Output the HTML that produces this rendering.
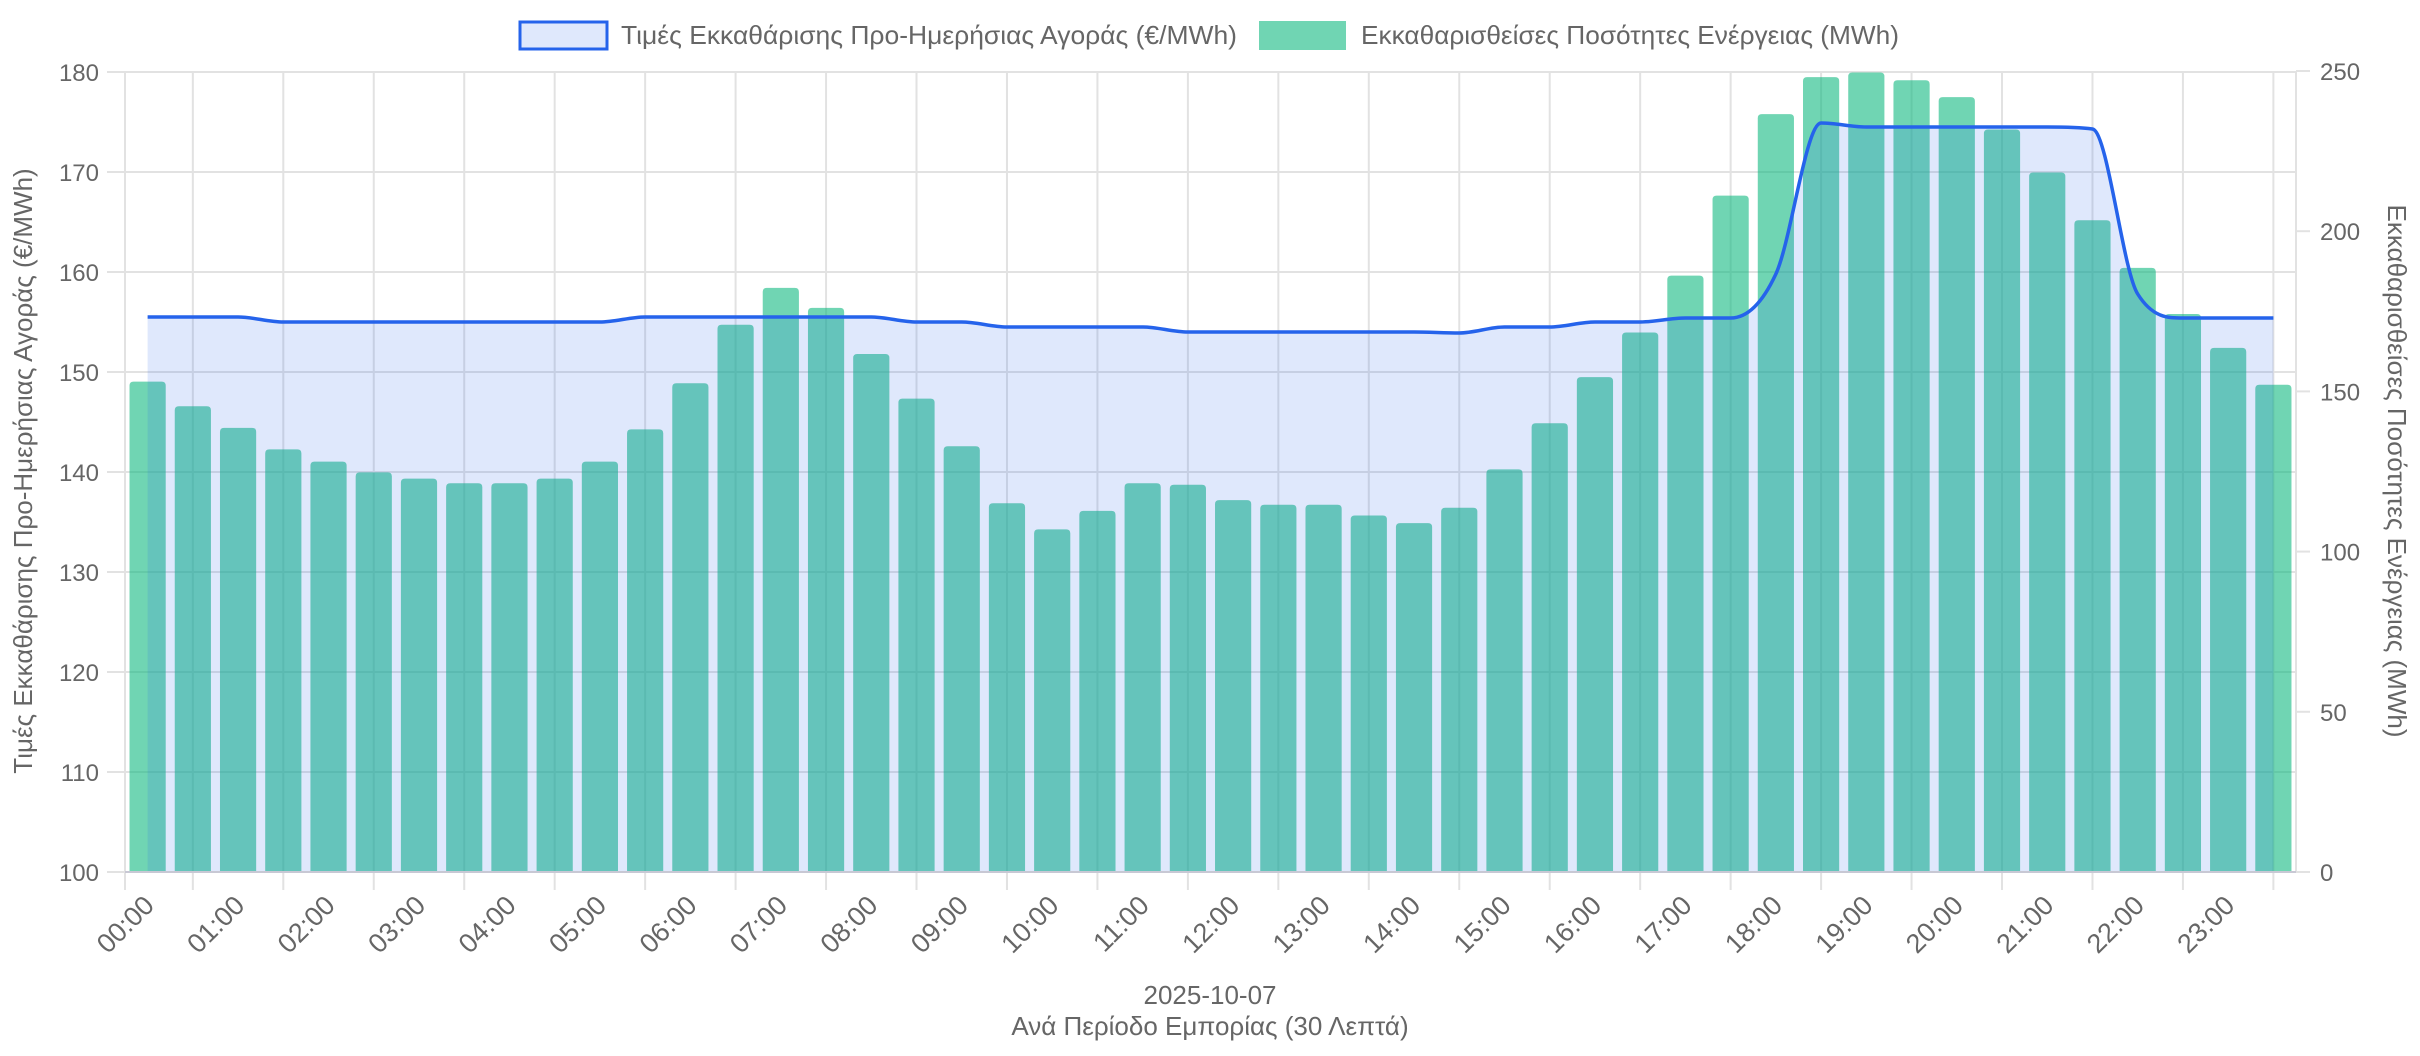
<!DOCTYPE html>
<html><head><meta charset="utf-8">
<style>
html,body{margin:0;padding:0;background:#fff;}
svg{display:block;font-family:"Liberation Sans",sans-serif;}
</style></head>
<body>
<svg id="c" width="2420" height="1056" viewBox="0 0 2420 1056" xmlns="http://www.w3.org/2000/svg"></svg>
<script>
const NS="http://www.w3.org/2000/svg";
const svg=document.getElementById('c');
function el(t,a,txt){const e=document.createElementNS(NS,t);for(const k in a)e.setAttribute(k,a[k]);if(txt!==undefined)e.textContent=txt;svg.appendChild(e);return e;}
const L=125,R=2296,T=71,B=872,N=48,bw=(R-L)/N;
const py=p=>B-(p-100)*10;
const qy=q=>B-q*(B-T)/250;
const cx=i=>L+bw*(i+0.5);
const dt=[247,263,277,291,299,306,310,313,313,310,299,278,248,210,186,199,229,258,289,326,343,331,313,314,324,327,327,334,339,329,304,274,244,215,178,126,73,49,46,51,62,83,111,142,173,203,225,249];
const tops=dt.map(d=>d*1.538+1.8);
const P=[155.5,155.5,155.5,155.0,155.0,155.0,155.0,155.0,155.0,155.0,155.0,155.5,155.5,155.5,155.5,155.5,155.5,155.0,155.0,154.5,154.5,154.5,154.5,154.0,154.0,154.0,154.0,154.0,154.0,153.9,154.5,154.5,155.0,155.0,155.4,155.4,159.8,174.9,174.5,174.5,174.5,174.5,174.5,174.3,157.8,155.4,155.4,155.4];
const grid="#e2e2e2";
const FT=24, FS=26;
for(let p=100;p<=180;p+=10){el('line',{x1:107,x2:R,y1:py(p),y2:py(p),stroke:grid,'stroke-width':2});
 el('text',{x:99,y:py(p)+9,'text-anchor':'end','font-size':FT,fill:'#666'},String(p));}
el('line',{x1:L,x2:L,y1:T,y2:890,stroke:grid,'stroke-width':2});
el('line',{x1:R,x2:R,y1:T,y2:B,stroke:grid,'stroke-width':2});
for(let k=0;k<24;k++){const x=L+bw*(1.5+2*k);el('line',{x1:x,x2:x,y1:T,y2:890,stroke:grid,'stroke-width':2});}
for(let q=0;q<=250;q+=50){el('line',{x1:R,x2:R+14,y1:qy(q),y2:qy(q),stroke:grid,'stroke-width':2});
 el('text',{x:2320,y:qy(q)+9,'font-size':FT,fill:'#666'},String(q));}
for(let i=0;i<N;i++){const w=bw*0.8,x=cx(i)-w/2,t=tops[i],r=4;
 el('path',{d:`M${x},${B} V${t+r} Q${x},${t} ${x+r},${t} H${x+w-r} Q${x+w},${t} ${x+w},${t+r} V${B} Z`,fill:'rgba(16,185,129,0.6)'});}
const pts=P.map((p,i)=>[cx(i),py(p)]);
function mono(pts){const n=pts.length,d=[],m=[];for(let i=0;i<n-1;i++)d.push((pts[i+1][1]-pts[i][1])/(pts[i+1][0]-pts[i][0]));
 m[0]=d[0];m[n-1]=d[n-2];for(let i=1;i<n-1;i++){m[i]=(d[i-1]*d[i]<=0)?0:(d[i-1]+d[i])/2;}
 for(let i=0;i<n-1;i++){if(d[i]===0){m[i]=0;m[i+1]=0;continue;}const a=m[i]/d[i],b=m[i+1]/d[i],s=a*a+b*b;if(s>9){const t=3/Math.sqrt(s);m[i]=t*a*d[i];m[i+1]=t*b*d[i];}}
 let s=`M${pts[0][0]},${pts[0][1]}`;for(let i=0;i<n-1;i++){const h=(pts[i+1][0]-pts[i][0])/3;
 s+=` C${pts[i][0]+h},${pts[i][1]+m[i]*h} ${pts[i+1][0]-h},${pts[i+1][1]-m[i+1]*h} ${pts[i+1][0]},${pts[i+1][1]}`;}return s;}
const lp=mono(pts);
el('path',{d:lp+` L${pts[N-1][0]},${B} L${pts[0][0]},${B} Z`,fill:'rgba(37,99,235,0.15)'});
el('path',{d:lp,fill:'none',stroke:'#2563eb','stroke-width':3.5});
el('line',{x1:L,x2:R,y1:B,y2:B,stroke:'#c8c8d4','stroke-width':2});
for(let h=0;h<24;h++){const x=cx(2*h)+8,y=907;const lb=(h<10?'0':'')+h+':00';
 el('text',{x:x,y:y,'text-anchor':'end','font-size':27,fill:'#666',transform:`rotate(-45 ${x} ${y})`},lb);}
el('text',{x:1210,y:1004,'text-anchor':'middle','font-size':FS,fill:'#666'},'2025-10-07');
el('text',{x:1210,y:1035,'text-anchor':'middle','font-size':FS,fill:'#666'},'Ανά Περίοδο Εμπορίας (30 Λεπτά)');
el('text',{x:0,y:0,'text-anchor':'middle','font-size':FS,fill:'#666',transform:'translate(32,471) rotate(-90)'},'Τιμές Εκκαθάρισης Προ-Ημερήσιας Αγοράς (€/MWh)');
el('text',{x:0,y:0,'text-anchor':'middle','font-size':FS,fill:'#666',transform:'translate(2388,471) rotate(90)'},'Εκκαθαρισθείσες Ποσότητες Ενέργειας (MWh)');
el('rect',{x:520,y:22,width:87,height:27,fill:'rgba(37,99,235,0.15)',stroke:'#2563eb','stroke-width':3});
el('text',{x:621,y:44,'font-size':FS,fill:'#666',textLength:616,lengthAdjust:'spacingAndGlyphs'},'Τιμές Εκκαθάρισης Προ-Ημερήσιας Αγοράς (€/MWh)');
el('rect',{x:1259,y:21,width:87,height:29,fill:'rgba(16,185,129,0.6)'});
el('text',{x:1361,y:44,'font-size':FS,fill:'#666',textLength:538,lengthAdjust:'spacingAndGlyphs'},'Εκκαθαρισθείσες Ποσότητες Ενέργειας (MWh)');
</script>
</body></html>
